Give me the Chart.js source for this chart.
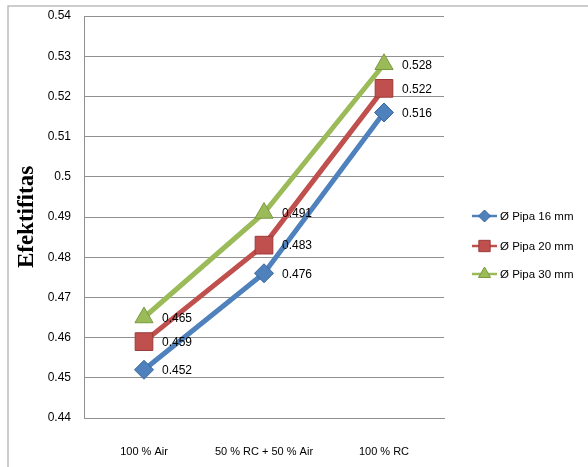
<!DOCTYPE html>
<html>
<head>
<meta charset="utf-8">
<script src="https://cdn.jsdelivr.net/npm/chart.js@4.4.1/dist/chart.umd.min.js"></script>
<style>
html,body{margin:0;padding:0;background:#fff;}
#wrap{width:588px;height:467px;position:relative;}
</style>
</head>
<body>
<div id="wrap"><canvas id="c" width="588" height="467"></canvas></div>
<script>
const categories = ['100 % Air', '50 % RC + 50 % Air', '100 % RC'];
const pipa16 = [0.452, 0.476, 0.516];
const pipa20 = [0.459, 0.483, 0.522];
const pipa30 = [0.465, 0.491, 0.528];
const seriesNames = ['Ø Pipa 16 mm', 'Ø Pipa 20 mm', 'Ø Pipa 30 mm'];
const yTicks = [0.44, 0.45, 0.46, 0.47, 0.48, 0.49, 0.5, 0.51, 0.52, 0.53, 0.54];

const NARROW = "'Liberation Sans Narrow', 'Arial Narrow', 'Liberation Sans', sans-serif";
const colors = ['#4f81bd', '#c0504d', '#9bbb59'];
const borders = ['#3a6699', '#9b3a37', '#7a9a40'];
const styles = ['rectRot', 'rect', 'triangle'];
const radii = [9.5, 12.5, 10.5];

const borderPlugin = {
  id: 'outerBorder',
  beforeDraw(chart) {
    const ctx = chart.ctx;
    ctx.save();
    ctx.strokeStyle = '#bdbdbd';
    ctx.lineWidth = 1.5;
    ctx.strokeRect(8, 6, 620, 520);
    ctx.restore();
  }
};

const labelPlugin = {
  id: 'valueLabels',
  afterDatasetsDraw(chart) {
    const ctx = chart.ctx;
    ctx.save();
    ctx.font = '12px ' + NARROW;
    ctx.fillStyle = '#000';
    ctx.textAlign = 'left';
    ctx.textBaseline = 'middle';
    chart.data.datasets.forEach((ds, i) => {
      const meta = chart.getDatasetMeta(i);
      meta.data.forEach((pt, j) => {
        ctx.fillText(ds.data[j].toFixed(3), pt.x + 18, pt.y + 1);
      });
    });
    ctx.restore();
  }
};

const legendPlugin = {
  id: 'customLegend',
  afterDraw(chart) {
    const ctx = chart.ctx;
    const x0 = 472, ys = [216, 246, 274];
    ctx.save();
    seriesNames.forEach((name, i) => {
      const y = ys[i];
      ctx.strokeStyle = colors[i];
      ctx.lineWidth = 2.5;
      ctx.beginPath();
      ctx.moveTo(x0, y);
      ctx.lineTo(x0 + 25, y);
      ctx.stroke();
      ctx.fillStyle = colors[i];
      ctx.strokeStyle = borders[i];
      ctx.lineWidth = 1;
      Chart.helpers.drawPoint(ctx, {pointStyle: styles[i], radius: [6, 8, 7][i], borderWidth: 1}, x0 + 12.5, y);
      ctx.fillStyle = '#000';
      ctx.font = '11.5px ' + NARROW;
      ctx.textAlign = 'left';
      ctx.textBaseline = 'middle';
      ctx.fillText(name, x0 + 28, y + 1);
    });
    ctx.restore();
  }
};

const dataSets = [pipa16, pipa20, pipa30].map((d, i) => ({
  label: seriesNames[i],
  data: d,
  borderColor: colors[i],
  backgroundColor: colors[i],
  pointBackgroundColor: colors[i],
  pointBorderColor: borders[i],
  pointBorderWidth: 1,
  pointStyle: styles[i],
  pointRadius: radii[i],
  pointHoverRadius: radii[i],
  borderWidth: 5,
  tension: 0,
  fill: false,
  order: 3 - i
}));

new Chart(document.getElementById('c'), {
  type: 'line',
  data: { labels: categories, datasets: dataSets },
  options: {
    responsive: false,
    animation: false,
    devicePixelRatio: 1,
    layout: { padding: { left: 12, top: 16, right: 144, bottom: 0 } },
    plugins: {
      legend: { display: false },
      tooltip: { enabled: false }
    },
    scales: {
      x: {
        offset: true,
        grid: { display: false, drawTicks: false },
        border: { display: true, color: '#909090', width: 1 },
        ticks: { color: '#000', font: { size: 11, family: NARROW }, padding: 27, maxRotation: 0 },
        afterFit(s) { s.height = 49; }
      },
      y: {
        min: 0.44,
        max: 0.54,
        afterBuildTicks(s) { s.ticks = yTicks.map(v => ({ value: v })); },
        grid: { color: '#909090', lineWidth: 1, drawTicks: false },
        border: { display: true, color: '#909090', width: 1 },
        ticks: {
          color: '#000',
          font: { size: 12, family: NARROW },
          padding: 13,
          callback: v => String(Math.round(v * 100) / 100)
        },
        title: {
          display: true,
          text: 'Efektifitas',
          color: '#000',
          font: { size: 23, weight: 'bold', family: "'Liberation Serif', 'Times New Roman', serif" },
          padding: { top: 1, bottom: 0 }
        },
        afterFit(s) { s.width = 72; s.paddingTop = 0; s.paddingBottom = 0; }
      }
    }
  },
  plugins: [borderPlugin, labelPlugin, legendPlugin]
});
</script>
</body>
</html>
